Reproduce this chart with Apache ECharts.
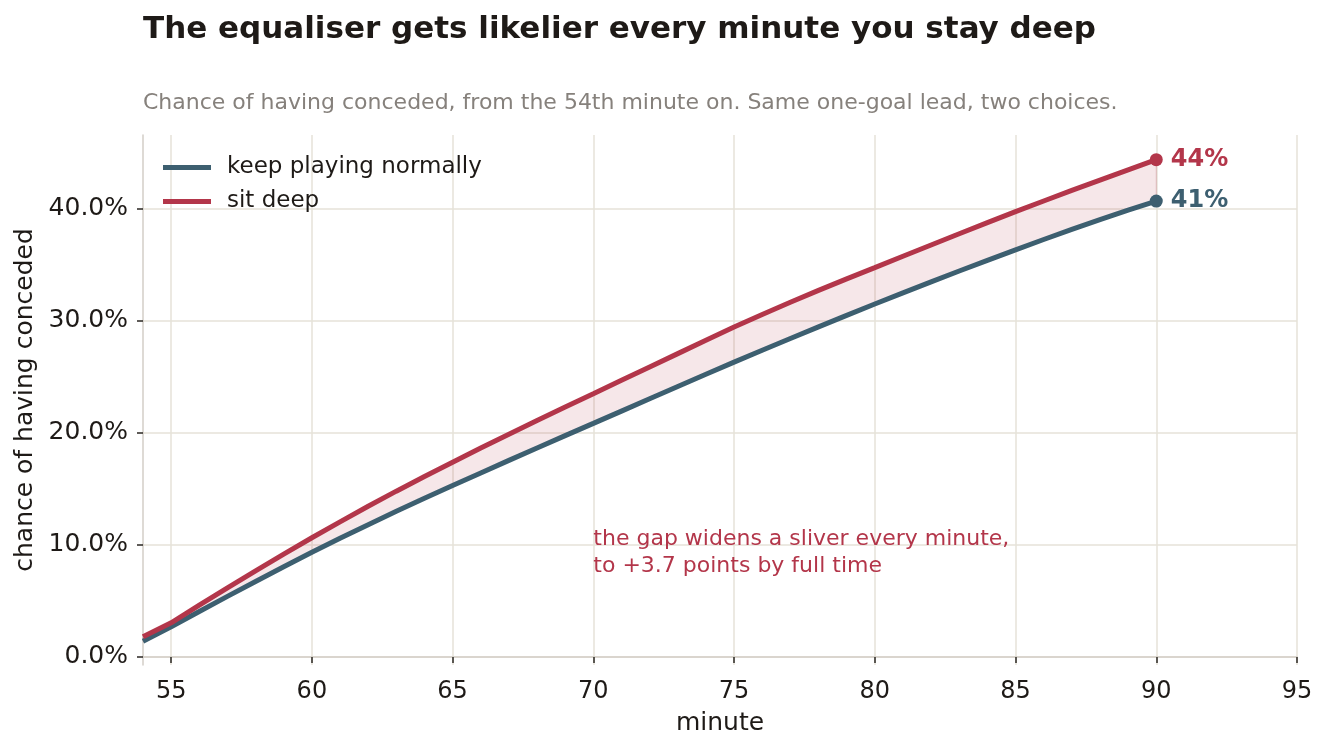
<!DOCTYPE html>
<html>
<head>
<meta charset="utf-8">
<script src="https://cdn.jsdelivr.net/npm/echarts@6.0.0/dist/echarts.min.js"></script>
<style>
  html, body { margin: 0; padding: 0; background: #ffffff; }
  #chart { width: 1328px; height: 754px; }
</style>
</head>
<body>
<div id="chart"></div>
<script>
// minutes 54..90
const minutes = [54, 55, 56, 57, 58, 59, 60, 61, 62, 63, 64, 65, 66, 67, 68, 69, 70, 71, 72,
  73, 74, 75, 76, 77, 78, 79, 80, 81, 82, 83, 84, 85, 86, 87, 88, 89, 90];

// chance of having conceded, in percent
const keepNormal = [1.40, 2.70, 4.06, 5.41, 6.74, 8.05, 9.34, 10.59, 11.81, 13.00, 14.16,
  15.30, 16.43, 17.55, 18.66, 19.76, 20.85, 21.95, 23.05, 24.15, 25.24, 26.32, 27.38, 28.43,
  29.47, 30.50, 31.51, 32.51, 33.49, 34.46, 35.41, 36.35, 37.27, 38.17, 39.05, 39.90, 40.70];
const sitDeep = [1.80, 3.05, 4.62, 6.17, 7.69, 9.18, 10.64, 12.06, 13.45, 14.80, 16.11,
  17.39, 18.65, 19.89, 21.11, 22.31, 23.50, 24.70, 25.89, 27.08, 28.27, 29.45, 30.58, 31.67,
  32.73, 33.76, 34.76, 35.77, 36.78, 37.78, 38.77, 39.76, 40.71, 41.65, 42.57, 43.49, 44.40];

const xTicks = [55, 60, 65, 70, 75, 80, 85, 90, 95];
const yTicks = [0, 10, 20, 30, 40];

const BLUE = '#3d5f70';
const RED = '#b3364a';
const FONT = 'DejaVu Sans';
const INK = '#1e1a17';

const chart = echarts.init(document.getElementById('chart'));

const lastIdx = minutes.length - 1;

// line data, with a dot and value label on the final minute
function lineData(values, color) {
    return values.map((v, i) => {
        if (i !== lastIdx) return [minutes[i], v];
        return {
            value: [minutes[i], v],
            symbol: 'circle',
            symbolSize: 13,
            itemStyle: { color: color },
            label: {
                show: true,
                position: 'right',
                distance: 8,
                formatter: Math.round(v) + '%',
                color: color,
                fontFamily: FONT,
                fontWeight: 'bold',
                fontSize: 24
            }
        };
    });
}

// polygon between the two curves
function renderGap(params, api) {
    const top = minutes.map((m, i) => api.coord([m, sitDeep[i]]));
    const bottom = minutes.map((m, i) => api.coord([m, keepNormal[i]])).reverse();
    return {
        type: 'polygon',
        shape: { points: top.concat(bottom) },
        style: { fill: 'rgba(179, 54, 74, 0.12)', stroke: 'rgba(179, 54, 74, 0.25)', lineWidth: 1 },
        silent: true
    };
}

const option = {
    animation: false,
    backgroundColor: '#ffffff',
    textStyle: { fontFamily: FONT },
    title: [
        {
            text: 'The equaliser gets likelier every minute you stay deep',
            left: 138,
            top: 9,
            textStyle: { fontFamily: FONT, fontSize: 31, fontWeight: 'bold', color: INK }
        },
        {
            text: 'Chance of having conceded, from the 54th minute on. Same one-goal lead, two choices.',
            left: 138,
            top: 87,
            textStyle: { fontFamily: FONT, fontSize: 22, fontWeight: 'normal', color: '#86817c' }
        }
    ],
    legend: {
        orient: 'vertical',
        left: 158,
        top: 151,
        itemWidth: 48,
        itemHeight: 5,
        itemGap: 11,
        icon: 'rect',
        textStyle: { fontFamily: FONT, fontSize: 23, color: INK, padding: [0, 0, 0, 11] },
        data: ['keep playing normally', 'sit deep']
    },
    grid: { left: 143, right: 31, top: 135, bottom: 89, containLabel: false },
    xAxis: {
        type: 'value',
        min: 54,
        max: 95,
        name: 'minute',
        nameLocation: 'middle',
        nameGap: 46,
        nameTextStyle: { fontFamily: FONT, fontSize: 25, color: INK },
        axisLine: { show: true, lineStyle: { color: '#d3cec7', width: 1.5 } },
        axisTick: { show: true, customValues: xTicks, length: 6, lineStyle: { color: '#2a2622', width: 1.5 } },
        axisLabel: { customValues: xTicks, fontFamily: FONT, fontSize: 24, color: INK, margin: 15 },
        splitLine: { show: true, lineStyle: { color: '#e6e2d9', width: 1.5 } }
    },
    yAxis: {
        type: 'value',
        min: -0.72,
        max: 46.6,
        name: 'chance of having conceded',
        nameLocation: 'middle',
        nameGap: 102,
        nameTextStyle: { fontFamily: FONT, fontSize: 25, color: INK },
        axisLine: { show: true, lineStyle: { color: '#d3cec7', width: 1.5 } },
        axisTick: { show: true, customValues: yTicks, length: 6, lineStyle: { color: '#2a2622', width: 1.5 } },
        axisLabel: {
            customValues: yTicks,
            fontFamily: FONT,
            fontSize: 25,
            color: INK,
            margin: 15,
            formatter: v => v.toFixed(1) + '%'
        },
        splitLine: { show: true, lineStyle: { color: '#e6e2d9', width: 1.5 } }
    },
    series: [
        {
            name: 'gap',
            type: 'custom',
            renderItem: renderGap,
            data: [[54, 0]],
            silent: true,
            z: 1
        },
        {
            name: 'keep playing normally',
            type: 'line',
            data: lineData(keepNormal, BLUE),
            showSymbol: true,
            symbol: 'none',
            color: BLUE,
            lineStyle: { color: BLUE, width: 5 },
            z: 3
        },
        {
            name: 'sit deep',
            type: 'line',
            data: lineData(sitDeep, RED),
            showSymbol: true,
            symbol: 'none',
            color: RED,
            lineStyle: { color: RED, width: 5 },
            z: 3
        }
    ]
};

chart.setOption(option);

// annotation anchored at minute 70
const anchor = chart.convertToPixel({ gridIndex: 0 }, [70, 11.75]);
chart.setOption({
    graphic: [{
        type: 'text',
        x: anchor[0],
        y: anchor[1],
        style: {
            text: 'the gap widens a sliver every minute,\nto +3.7 points by full time',
            fill: RED,
            font: '22px "DejaVu Sans"',
            lineHeight: 27,
            textAlign: 'left',
            textVerticalAlign: 'top'
        },
        z: 10
    }]
});
</script>
</body>
</html>
